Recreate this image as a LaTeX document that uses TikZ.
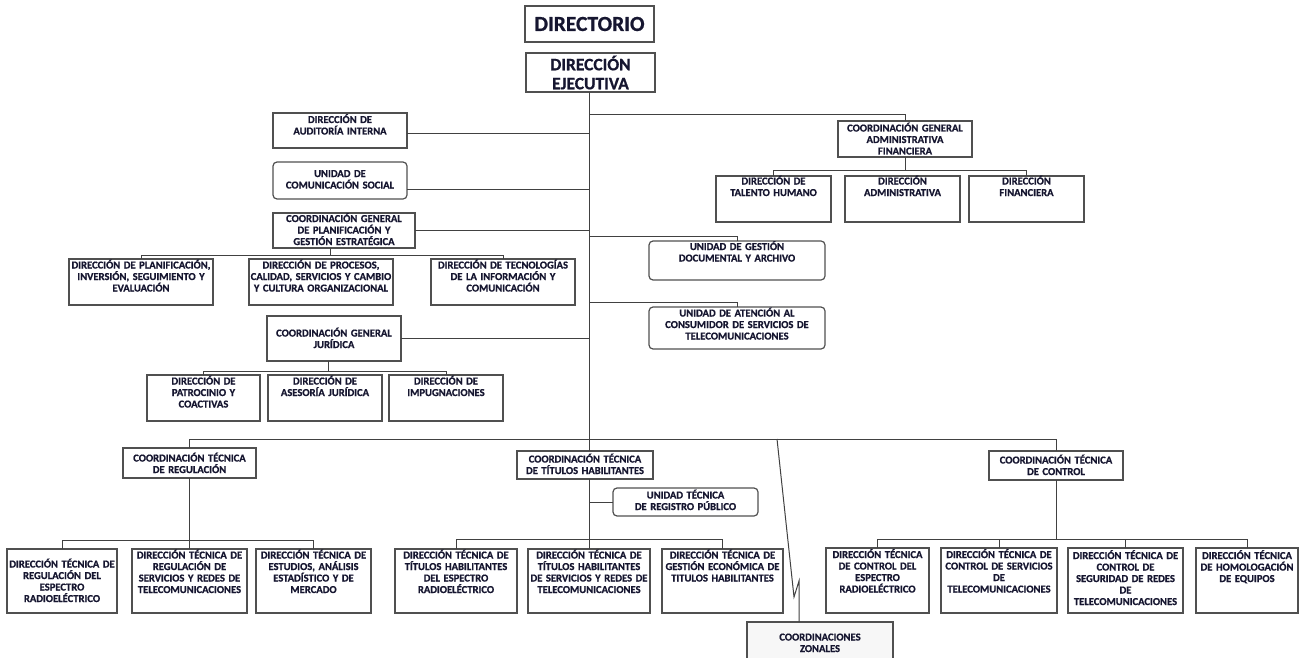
\documentclass[tikz,border=0pt]{standalone}
\usepackage{fontspec}
\setmainfont{Carlito}[BoldFeatures={FakeBold=0.8}]
\definecolor{boxc}{RGB}{80,80,80}
\definecolor{linec}{RGB}{65,65,65}
\definecolor{textc}{RGB}{22,22,48}
\tikzset{
  obox/.style={draw=boxc, line width=1.2pt, inner sep=0pt, outer sep=0pt, fill=white},
  rbox/.style={obox, rounded corners=4pt},
  zbox/.style={obox, fill=gray!6},
  txt/.style={inner sep=0pt, outer sep=0pt, align=center, text=textc,
    font=\fontsize{10.6}{11.5}\selectfont\bfseries},
  conn/.style={draw=linec, line width=1pt}
}
\newcommand\obx[8]{%
  \node[#2, minimum width={(#5-#3)*1pt}, minimum height={(#6-#4)*1pt}] (#1) at ({(#3+#5)/2},{(#4+#6)/2}) {};
  \node[txt, text width={(#5-#3+30)*1pt}, anchor=base] (#1-t) at ({(#3+#5)/2},{#4+#7}) {#8};
}
\begin{document}
\begin{tikzpicture}[x=1pt,y=-1pt]
\useasboundingbox (0,0) rectangle (1300,658);
\fill[white] (0,0) rectangle (1300,658);
\clip (0,0) rectangle (1300,658);

% top boxes
\node[obox, minimum width=129pt, minimum height=36pt, text=textc, font=\fontsize{21.5}{22}\selectfont\bfseries] (dir) at (589.5,24) {DIRECTORIO};
\node[obox, minimum width=129pt, minimum height=39pt, text=textc, align=center, font=\fontsize{17.5}{19}\selectfont\bfseries] (de) at (590.5,72.5) {DIRECCIÓN\\EJECUTIVA};

% left staff units
\obx{aud}{obox}{273}{113}{407}{148}{10}{DIRECCIÓN DE\\AUDITORÍA INTERNA}
\obx{com}{rbox}{273}{162}{407}{199}{15}{UNIDAD DE\\COMUNICACIÓN SOCIAL}
\obx{cgp}{obox}{273}{213}{415}{248}{9}{COORDINACIÓN GENERAL\\DE PLANIFICACIÓN Y\\GESTIÓN ESTRATÉGICA}
\obx{pla}{obox}{69}{259}{213}{305}{9.5}{DIRECCIÓN DE PLANIFICACIÓN,\\INVERSIÓN, SEGUIMIENTO Y\\EVALUACIÓN}
\obx{pro}{obox}{249}{259}{393}{305}{9.5}{DIRECCIÓN DE PROCESOS,\\CALIDAD, SERVICIOS Y CAMBIO\\Y CULTURA ORGANIZACIONAL}
\obx{tec}{obox}{431}{259}{575}{305}{9.5}{DIRECCIÓN DE TECNOLOGÍAS\\DE LA INFORMACIÓN Y\\COMUNICACIÓN}
\obx{cgj}{obox}{267}{316}{401}{361}{20.5}{COORDINACIÓN GENERAL\\JURÍDICA}
\obx{pat}{obox}{147}{375}{260}{421}{9.5}{DIRECCIÓN DE\\PATROCINIO Y\\COACTIVAS}
\obx{ase}{obox}{268}{375}{382}{421}{9.5}{DIRECCIÓN DE\\ASESORÍA JURÍDICA}
\obx{imp}{obox}{389}{375}{503}{421}{9.5}{DIRECCIÓN DE\\IMPUGNACIONES}

% right staff units
\obx{cgaf}{obox}{838}{121}{972}{157}{10.5}{COORDINACIÓN GENERAL\\ADMINISTRATIVA\\FINANCIERA}
\obx{tal}{obox}{716}{176}{831}{222}{8.5}{DIRECCIÓN DE\\TALENTO HUMANO}
\obx{adm}{obox}{845}{176}{960}{222}{8.5}{DIRECCIÓN\\ADMINISTRATIVA}
\obx{fin}{obox}{969}{176}{1084}{222}{8.5}{DIRECCIÓN\\FINANCIERA}
\obx{ugd}{rbox}{649}{241}{825}{280}{9}{UNIDAD DE GESTIÓN\\DOCUMENTAL Y ARCHIVO}
\obx{uac}{rbox}{649}{307}{825}{349}{9.5}{UNIDAD DE ATENCIÓN AL\\CONSUMIDOR DE SERVICIOS DE\\TELECOMUNICACIONES}

% technical coordinations
\obx{ctr}{obox}{123}{448}{256}{478}{13.5}{COORDINACIÓN TÉCNICA\\DE REGULACIÓN}
\obx{ctth}{obox}{517}{451}{653}{479}{11.5}{COORDINACIÓN TÉCNICA\\DE TÍTULOS HABILITANTES}
\obx{utrp}{rbox}{613}{488}{758}{516}{10.5}{UNIDAD TÉCNICA\\DE REGISTRO PÚBLICO}
\obx{ctc}{obox}{989}{451}{1123}{480}{12.5}{COORDINACIÓN TÉCNICA\\DE CONTROL}

% bottom row
\obx{r1}{obox}{7}{549}{117}{613}{18.5}{DIRECCIÓN TÉCNICA DE\\REGULACIÓN DEL\\ESPECTRO\\RADIOELÉCTRICO}
\obx{r2}{obox}{132}{549}{247}{613}{9.5}{DIRECCIÓN TÉCNICA DE\\REGULACIÓN DE\\SERVICIOS Y REDES DE\\TELECOMUNICACIONES}
\obx{r3}{obox}{256}{549}{371}{613}{9.5}{DIRECCIÓN TÉCNICA DE\\ESTUDIOS, ANÁLISIS\\ESTADÍSTICO Y DE\\MERCADO}
\obx{t1}{obox}{395}{549}{517}{613}{9.5}{DIRECCIÓN TÉCNICA DE\\TÍTULOS HABILITANTES\\DEL ESPECTRO\\RADIOELÉCTRICO}
\obx{t2}{obox}{528}{549}{650}{613}{9.5}{DIRECCIÓN TÉCNICA DE\\TÍTULOS HABILITANTES\\DE SERVICIOS Y REDES DE\\TELECOMUNICACIONES}
\obx{t3}{obox}{662}{549}{783}{613}{9.5}{DIRECCIÓN TÉCNICA DE\\GESTIÓN ECONÓMICA DE\\TITULOS HABILITANTES}
\obx{c1}{obox}{826}{548}{929}{613}{10}{DIRECCIÓN TÉCNICA\\DE CONTROL DEL\\ESPECTRO\\RADIOELÉCTRICO}
\obx{c2}{obox}{941}{548}{1057}{613}{10}{DIRECCIÓN TÉCNICA DE\\CONTROL DE SERVICIOS\\DE\\TELECOMUNICACIONES}
\obx{c3}{obox}{1068}{548}{1183}{613}{11}{DIRECCIÓN TÉCNICA DE\\CONTROL DE\\SEGURIDAD DE REDES\\DE\\TELECOMUNICACIONES}
\obx{c4}{obox}{1196}{548}{1298}{613}{11}{DIRECCIÓN TÉCNICA\\DE HOMOLOGACIÓN\\DE EQUIPOS}
\obx{cz}{zbox}{747}{622}{893}{672}{18.5}{COORDINACIONES\\ZONALES}

% coordinates
\coordinate (tk) at (589,0);
\coordinate (j1) at (589,115);
\coordinate (j2) at (589,236);
\coordinate (j3) at (589,302);
\coordinate (bb) at (0,439);
\coordinate (b2) at (0,255);
\coordinate (v2) at (330,0);
\coordinate (b3) at (0,371);
\coordinate (v3) at (328,0);
\coordinate (b4) at (0,170);
\coordinate (b5) at (0,540);
\coordinate (b6) at (0,539);
\coordinate (b7) at (0,539);
\coordinate (z0) at (777,439);
\coordinate (z1) at (794,597);
\coordinate (z2) at (799,581);

% trunk and staff connectors
\draw[conn] (de.south -| tk) -- (ctth.north -| tk);
\draw[conn] ([yshift=-2.5pt]aud.east) -- ([yshift=-2.5pt]aud.east -| tk);
\draw[conn] ([yshift=-8.5pt]com.east) -- ([yshift=-8.5pt]com.east -| tk);
\draw[conn] (cgp.east) -- (cgp.east -| tk);
\draw[conn] (cgj.east) -- (cgj.east -| tk);
\draw[conn] (j1) -| (cgaf.north);
\draw[conn] (j2) -| (ugd.north);
\draw[conn] (j3) -| (uac.north);

% planning group
\draw[conn] (cgp.south -| v2) -- (v2 |- b2);
\draw[conn] (pla.north) -- (pla.north |- b2) -- (tec.north |- b2) -- (tec.north);
% legal group
\draw[conn] (cgj.south -| v3) -- (v3 |- b3);
\draw[conn] (pat.north) -- (pat.north |- b3) -- (imp.north |- b3) -- (imp.north);
% admin group
\draw[conn] (cgaf.south) -- (cgaf.south |- b4);
\draw[conn] (tal.north) -- (tal.north |- b4) -- (fin.north |- b4) -- (fin.north);

% bottom bus
\draw[conn] (ctr.north) -- (ctr.north |- bb) -- (ctc.north |- bb) -- (ctc.north);
\draw[conn] (z0) -- (z1) -- (z2) -- (z2 |- cz.north);

% regulation group
\draw[conn] (ctr.south) -- (r2.north);
\draw[conn] (r1.north) -- (r1.north |- b5) -- (r3.north |- b5) -- (r3.north);
% titles group
\draw[conn] (ctth.south -| tk) -- (t2.north -| tk);
\draw[conn] (utrp.west -| tk) -- (utrp.west);
\draw[conn] (t1.north) -- (t1.north |- b6) -- (t3.north |- b6) -- (t3.north);
% control group
\draw[conn] (ctc.south) -- (ctc.south |- b7);
\draw[conn] (c1.north) -- (c1.north |- b7) -- (c4.north |- b7) -- (c4.north);
\draw[conn] (c2.north) -- (c2.north |- b7);
\draw[conn] (c3.north) -- (c3.north |- b7);
\end{tikzpicture}
\end{document}
